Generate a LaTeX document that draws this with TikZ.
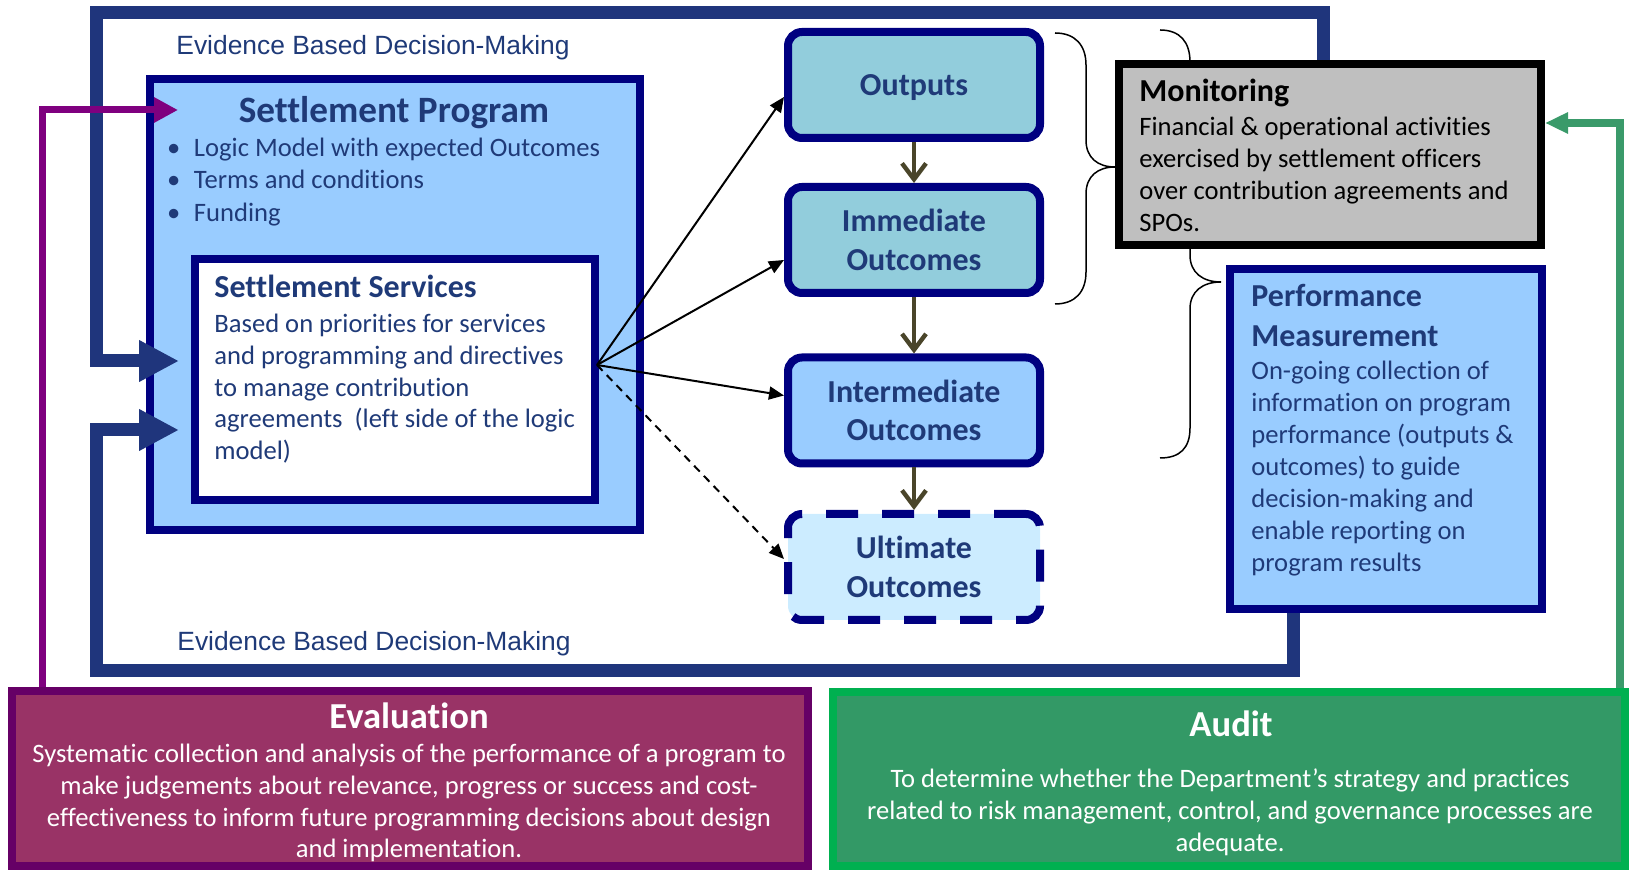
\documentclass[tikz,border=0pt]{standalone}
\usepackage{fontspec}
\setmainfont{Carlito}[Ligatures=CommonOff]
\newfontfamily\arialfont{Liberation Sans}
\usepackage{xcolor}
\usetikzlibrary{arrows.meta}
\definecolor{ink}{HTML}{1F3A78}
\definecolor{frameblue}{HTML}{1F357C}
\definecolor{boxnavy}{HTML}{000080}
\definecolor{skyfill}{HTML}{99CCFF}
\definecolor{tealfill}{HTML}{92CDDC}
\definecolor{palefill}{HTML}{CCECFF}
\definecolor{monfill}{HTML}{BFBFBF}
\definecolor{stemolive}{HTML}{4A452A}
\definecolor{evalfill}{HTML}{993366}
\definecolor{evalline}{HTML}{660066}
\definecolor{purpleline}{HTML}{7F007F}
\definecolor{auditfill}{HTML}{339966}
\definecolor{auditline}{HTML}{00B050}
\definecolor{greenline}{HTML}{3A9A6A}

\begin{document}
\begin{tikzpicture}[x=0.5pt,y=-0.5pt,
  body/.style={inner sep=0pt,text=ink,font=\fontsize{13.3pt}{16pt}\selectfont},
  head/.style={inner sep=0pt,text=ink,font=\fontsize{16pt}{20pt}\selectfont\bfseries},
  bigtitle/.style={inner sep=0pt,text=ink,font=\fontsize{18.6pt}{22pt}\selectfont\bfseries},
  boxtitle/.style={inner sep=0pt,text=white,font=\fontsize{18.3pt}{22pt}\selectfont\bfseries},
  evid/.style={inner sep=0pt,text=ink,font=\arialfont\fontsize{13.2pt}{16pt}\selectfont},
  sqbox/.style={draw=boxnavy,line width=4pt,inner sep=0pt},
  outbox/.style={sqbox,rounded corners=7pt,minimum width=126pt,minimum height=53pt,align=center,text=ink,font=\fontsize{16pt}{19.3pt}\selectfont\bfseries},
  frameline/.style={draw=frameblue,line width=6.5pt,line join=miter,-{Triangle[length=20pt,width=19.5pt]}},
  fanline/.style={line width=1pt,-{Triangle[length=7.5pt,width=6.5pt]}},
  stem/.style={draw=stemolive,line width=2.2pt,-{Straight Barb[length=8pt,width=12pt]}},
  brace/.style={line width=0.75pt}]
\useasboundingbox (0,0) rectangle (1629,870);
\clip (0,0) rectangle (1629,870);

\draw[brace] (1055,33) .. controls (1075,33) and (1086,45) .. (1086,65) -- (1086,140) .. controls (1086,158) and (1098,167) .. (1115,167) .. controls (1098,167) and (1086,176) .. (1086,194) -- (1086,272) .. controls (1086,292) and (1075,304) .. (1055,304);
\draw[brace] (1160,30) .. controls (1180,30) and (1190,42) .. (1190,62) -- (1190,255) .. controls (1190,273) and (1203,282) .. (1221,282) .. controls (1203,282) and (1190,291) .. (1190,309) -- (1190,428) .. controls (1190,448) and (1180,458) .. (1160,458);

\node[sqbox,fill=skyfill,minimum width=245pt,minimum height=225.5pt] (prog) at (395,304.5) {};
\node[sqbox,fill=white,minimum width=200.2pt,minimum height=120.5pt] (svc) at (394.8,379.5) {};
\node[outbox,fill=tealfill,text depth=0pt] (out) at (914,85) {Outputs};
\node[outbox,fill=tealfill] (imm) at (914,240) {Immediate\\Outcomes};
\node[outbox,fill=skyfill] (mid) at (914,410.5) {Intermediate\\Outcomes};
\node[outbox,fill=palefill,dash pattern=on 16pt off 12pt] (ult) at (914,567) {Ultimate\\Outcomes};
\node[draw=black,line width=4pt,fill=monfill,inner sep=0pt,minimum width=211pt,minimum height=90.5pt] (mon) at (1330,154.5) {};
\node[sqbox,fill=skyfill,minimum width=155.75pt,minimum height=170pt] (perf) at (1386,439) {};
\node[draw=evalline,line width=4pt,fill=evalfill,inner sep=0pt,minimum width=398pt,minimum height=87.5pt] (eval) at (410,778.5) {};
\node[draw=auditline,line width=4pt,fill=auditfill,inner sep=0pt,minimum width=396pt,minimum height=87pt] (audit) at (1229,779) {};

\coordinate (topR) at (1323,13);
\coordinate (topL) at (96.5,13);
\coordinate (botR) at (1293,671);
\coordinate (botL) at (96.5,671);
\coordinate (inA) at (179,361);
\coordinate (inB) at (179,430);
\coordinate (pcorner) at (42.5,110);
\coordinate (inP) at (178,110);
\coordinate (gcorner) at (1620,123);
\coordinate (fan) at (597,365);

\draw[frameline] (mon.north -| topR) -- (topR) -- (topL) |- (inA);
\draw[frameline] (perf.south -| botR) -- (botR) -- (botL) |- (inB);
\draw[draw=purpleline,line width=3.5pt,line join=miter,-{Triangle[length=12pt,width=12pt]}] (eval.north -| pcorner) -- (pcorner) -- (inP);
\draw[draw=greenline,line width=4pt,line join=miter,-{Triangle[length=11.5pt,width=10pt]}] (audit.north -| gcorner) -- (gcorner) -- (mon.east |- gcorner);

\draw[fanline] (fan) -- ([yshift=-6pt]out.west);
\draw[fanline] (fan) -- ([yshift=-10pt]imm.west);
\draw[fanline] (fan) -- ([yshift=7.5pt]mid.west);
\draw[fanline,dash pattern=on 4pt off 3pt] (fan) -- ([yshift=4pt]ult.west);
\draw[stem] (out.south) -- (imm.north);
\draw[stem] (imm.south) -- (mid.north);
\draw[stem] (mid.south) -- (ult.north);

\draw (176,55) node[evid,anchor=base west] (ebdm1) {Evidence Based Decision-Making};
\draw (177,651) node[evid,anchor=base west] (ebdm2) {Evidence Based Decision-Making};

\draw (394,123) node[bigtitle,anchor=base] (progt) {Settlement Program};
\draw (193.6,157) node[body,anchor=base west] (progb1) {\llap{\textbullet\hspace{6.8pt}}Logic Model with expected Outcomes};
\draw (193.6,189) node[body,anchor=base west] (progb2) {\llap{\textbullet\hspace{6.8pt}}Terms and conditions};
\draw (193.6,222) node[body,anchor=base west] (progb3) {\llap{\textbullet\hspace{6.8pt}}Funding};

\draw (214,298) node[head,anchor=base west] (svct) {Settlement Services};
\draw (214,333) node[body,anchor=base west] (svc1) {Based on priorities for services};
\draw (214,365) node[body,anchor=base west] (svc2) {and programming and directives};
\draw (214,397) node[body,anchor=base west] (svc3) {to manage contribution};
\draw (214,428) node[body,anchor=base west] (svc4) {agreements\ \ (left side of the logic};
\draw (214,460) node[body,anchor=base west] (svc5) {model)};

\draw (1139,102) node[head,text=black,anchor=base west] (mont) {Monitoring};
\draw (1139,136) node[body,text=black,anchor=base west] (mon1) {Financial \& operational activities};
\draw (1139,168) node[body,text=black,anchor=base west] (mon2) {exercised by settlement officers};
\draw (1139,200) node[body,text=black,anchor=base west] (mon3) {over contribution agreements and};
\draw (1139,232) node[body,text=black,anchor=base west] (mon4) {SPOs.};

\draw (1251,307) node[head,anchor=base west] (perft1) {Performance};
\draw (1251,347) node[head,anchor=base west] (perft2) {Measurement};
\draw (1251,380) node[body,anchor=base west] (perf1) {On-going collection of};
\draw (1251,412) node[body,anchor=base west] (perf2) {information on program};
\draw (1251,444) node[body,anchor=base west] (perf3) {performance (outputs \&};
\draw (1251,476) node[body,anchor=base west] (perf4) {outcomes) to guide};
\draw (1251,508) node[body,anchor=base west] (perf5) {decision-making and};
\draw (1251,540) node[body,anchor=base west] (perf6) {enable reporting on};
\draw (1251,572) node[body,anchor=base west] (perf7) {program results};

\draw (409,729) node[boxtitle,anchor=base] (evalt) {Evaluation};
\draw (409,763) node[body,text=white,anchor=base] (eval1) {Systematic collection and analysis of the performance of a program to};
\draw (409,795) node[body,text=white,anchor=base] (eval2) {make judgements about relevance, progress or success and cost-};
\draw (409,827) node[body,text=white,anchor=base] (eval3) {effectiveness to inform future programming decisions about design};
\draw (409,858) node[body,text=white,anchor=base] (eval4) {and implementation.};

\draw (1231,737) node[boxtitle,anchor=base] (auditt) {Audit};
\draw (1230,788) node[body,text=white,anchor=base] (audit1) {To determine whether the Department’s strategy and practices};
\draw (1230,820) node[body,text=white,anchor=base] (audit2) {related to risk management, control, and governance processes are};
\draw (1230,852) node[body,text=white,anchor=base] (audit3) {adequate.};
\end{tikzpicture}
\end{document}
